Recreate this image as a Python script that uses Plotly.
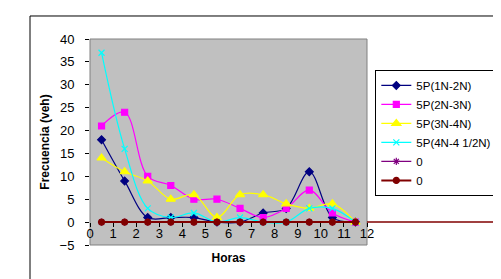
import plotly.graph_objects as go

horas = [0.5, 1.5, 2.5, 3.5, 4.5, 5.5, 6.5, 7.5, 8.5, 9.5, 10.5, 11.5]
s_1n2n = [18, 9, 1, 1, 1, 0, 0, 2, 3, 11, 1, 0]
s_2n3n = [21, 24, 10, 8, 5, 5, 3, 1, 3, 7, 2, 0]
s_3n4n = [14, 11, 9, 5, 6, 1, 6, 6, 4, 3, 4, 0]
s_4n45 = [37, 16, 3, 1, 2, 0, 1, 0, 0, 3, 3, 0]
s_zero_a = [0, 0, 0, 0, 0, 0, 0, 0, 0, 0, 0, 0]
s_zero_b = [0, 0, 0, 0, 0, 0, 0, 0, 0, 0, 0, 0]
names = ["5P(1N-2N)", "5P(2N-3N)", "5P(3N-4N)", "5P(4N-4 1/2N)", "0", "0"]
xticks = list(range(0, 13))
yticks = list(range(-5, 41, 5))

series = [s_1n2n, s_2n3n, s_3n4n, s_4n45, s_zero_a, s_zero_b]
colors = ["#000080", "#FF00FF", "#FFFF00", "#00FFFF", "#800080", "#800000"]
symbols = ["diamond", "square", "triangle-up", "x-thin", "asterisk-open", "circle"]
sizes = [6, 6, 8, 6, 6, 6]
shapes_line = ["spline", "spline", "spline", "spline", "linear", "linear"]

fig = go.Figure()
for ys, nm, c, sym, sz, sh in zip(series, names, colors, symbols, sizes, shapes_line):
    fig.add_trace(go.Scatter(
        x=horas, y=ys, name=nm, mode="lines+markers",
        line=dict(color=c, width=1.2 if c != "#800000" else 2, shape=sh, smoothing=1.0),
        marker=dict(symbol=sym, size=sz, color=c, line=dict(color=c, width=1.2)),
        cliponaxis=False,
    ))

# secondary x axis carrying tick marks along y=0
fig.add_trace(go.Scatter(x=[0, 12], y=[None, None], xaxis="x2", showlegend=False, hoverinfo="skip"))

font = "Liberation Sans, Arial, sans-serif"
fig.update_layout(
    width=501, height=279,
    margin=dict(l=82, r=142, t=31, b=42, autoexpand=False),
    paper_bgcolor="white",
    plot_bgcolor="#C0C0C0",
    font=dict(family=font, size=13, color="black"),
    showlegend=True,
    legend=dict(
        x=1.03, y=0.85, xanchor="left", yanchor="top",
        bgcolor="white", bordercolor="black", borderwidth=1,
        font=dict(size=11.5, family=font), tracegroupgap=0, itemwidth=30,
    ),
    xaxis=dict(
        range=[0, 12], tickvals=xticks, ticktext=[str(v) for v in xticks],
        showgrid=False, zeroline=False, showline=False,
        anchor="free", position=0.102,
        ticks="", automargin=False,
        title=dict(text="<b>Horas</b>", font=dict(size=12), standoff=13),
    ),
    xaxis2=dict(
        range=[0, 12], overlaying="x", anchor="free", position=5 / 45,
        tickvals=xticks, showticklabels=False, ticks="outside", ticklen=4,
        tickcolor="black", showgrid=False, zeroline=False, showline=False, automargin=False,
    ),
    yaxis=dict(
        range=[-5, 40], tickvals=yticks, showgrid=False, zeroline=False,
        showline=False, ticks="outside", ticklen=4, tickcolor="black", automargin=False,
        ticklabelstandoff=8,
        title=dict(text="<b>Frecuencia (veh)</b>", font=dict(size=12), standoff=7),
    ),
    shapes=[
        dict(type="rect", xref="paper", yref="paper", x0=-0.2166, x1=1.8, y0=-0.6, y1=1.1117,
             line=dict(color="black", width=1), fillcolor="rgba(0,0,0,0)", layer="below"),
        dict(type="rect", xref="paper", yref="paper", x0=0, x1=1, y0=0, y1=1,
             line=dict(color="#808080", width=1), fillcolor="rgba(0,0,0,0)", layer="below"),
        dict(type="line", xref="paper", yref="y", x0=1.0, x1=1.6, y0=0, y1=0,
             line=dict(color="#800000", width=1.5)),
    ],
)

fig.write_html("out.html")
